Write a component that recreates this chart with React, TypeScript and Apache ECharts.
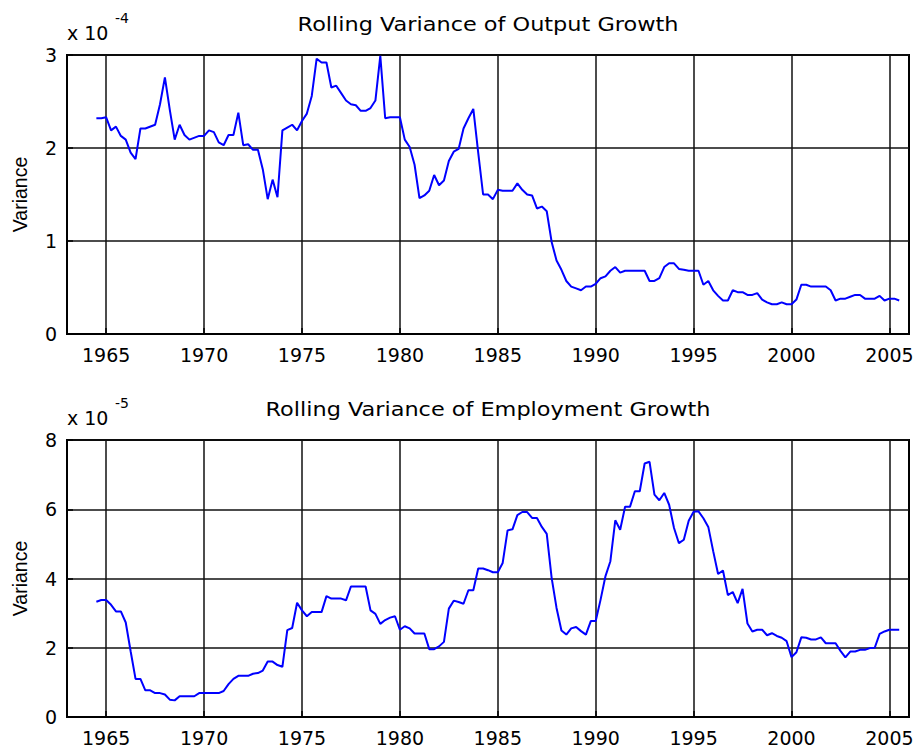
import React, { useEffect, useRef } from "react";
import * as echarts from "echarts";

// x-axis tick years (shared by both panels)
const xTickYears = [1965, 1970, 1975, 1980, 1985, 1990, 1995, 2000, 2005];
const xRange = [1963, 2006];

// Output growth rolling variance, in units of 1e-4: [year, value]
const outputVariance: [number, number][] = [
  [1964.5, 2.32], [1964.75, 2.32], [1965, 2.33], [1965.25, 2.19], [1965.5, 2.23], [1965.75, 2.13],
  [1966, 2.09], [1966.25, 1.95], [1966.5, 1.88], [1966.75, 2.21], [1967, 2.21], [1967.5, 2.25],
  [1967.75, 2.47], [1968, 2.76], [1968.25, 2.41], [1968.5, 2.09], [1968.75, 2.25], [1969, 2.14],
  [1969.25, 2.09], [1969.75, 2.13], [1970, 2.13], [1970.25, 2.19], [1970.5, 2.17], [1970.75, 2.06],
  [1971, 2.03], [1971.25, 2.14], [1971.5, 2.14], [1971.75, 2.38], [1972, 2.03], [1972.25, 2.04],
  [1972.5, 1.98], [1972.75, 1.98], [1973, 1.77], [1973.25, 1.45], [1973.5, 1.66], [1973.75, 1.47],
  [1974, 2.19], [1974.25, 2.22], [1974.5, 2.25], [1974.75, 2.19], [1975, 2.29], [1975.25, 2.37],
  [1975.5, 2.56], [1975.75, 2.96], [1976, 2.92], [1976.25, 2.92], [1976.5, 2.65], [1976.75, 2.67],
  [1977, 2.59], [1977.25, 2.51], [1977.5, 2.47], [1977.75, 2.46], [1978, 2.4], [1978.25, 2.4],
  [1978.5, 2.43], [1978.75, 2.51], [1979, 2.99], [1979.25, 2.32], [1979.5, 2.33], [1980, 2.33],
  [1980.25, 2.09], [1980.5, 2.01], [1980.75, 1.82], [1981, 1.46], [1981.25, 1.49], [1981.5, 1.54],
  [1981.75, 1.71], [1982, 1.6], [1982.25, 1.65], [1982.5, 1.86], [1982.75, 1.96], [1983, 1.99],
  [1983.25, 2.21], [1983.5, 2.32], [1983.75, 2.42], [1984, 1.95], [1984.25, 1.5], [1984.5, 1.5],
  [1984.75, 1.45], [1985, 1.55], [1985.25, 1.54], [1985.75, 1.54], [1986, 1.62], [1986.25, 1.55],
  [1986.5, 1.5], [1986.75, 1.49], [1987, 1.35], [1987.25, 1.37], [1987.5, 1.32], [1987.75, 0.99],
  [1988, 0.79], [1988.25, 0.69], [1988.5, 0.57], [1988.75, 0.51], [1989, 0.49], [1989.25, 0.47],
  [1989.5, 0.51], [1989.75, 0.51], [1990, 0.54], [1990.25, 0.6], [1990.5, 0.62], [1990.75, 0.68],
  [1991, 0.72], [1991.25, 0.66], [1991.5, 0.68], [1992.5, 0.68], [1992.75, 0.57], [1993, 0.57],
  [1993.25, 0.6], [1993.5, 0.72], [1993.75, 0.76], [1994, 0.76], [1994.25, 0.7], [1994.5, 0.69],
  [1994.75, 0.68], [1995.25, 0.68], [1995.5, 0.53], [1995.75, 0.57], [1996, 0.47], [1996.25, 0.41],
  [1996.5, 0.36], [1996.75, 0.36], [1997, 0.47], [1997.25, 0.45], [1997.5, 0.45], [1997.75, 0.42],
  [1998, 0.42], [1998.25, 0.44], [1998.5, 0.37], [1998.75, 0.34], [1999, 0.32], [1999.25, 0.32],
  [1999.5, 0.34], [1999.75, 0.32], [2000, 0.32], [2000.25, 0.37], [2000.5, 0.53], [2000.75, 0.53],
  [2001, 0.51], [2001.75, 0.51], [2002, 0.47], [2002.25, 0.36], [2002.5, 0.38], [2002.75, 0.38],
  [2003, 0.4], [2003.25, 0.42], [2003.5, 0.42], [2003.75, 0.38], [2004.25, 0.38], [2004.5, 0.41],
  [2004.75, 0.36], [2005, 0.38], [2005.25, 0.38], [2005.5, 0.36],
];

// Employment growth rolling variance, in units of 1e-5: [year, value]
const employmentVariance: [number, number][] = [
  [1964.5, 3.33], [1964.75, 3.38], [1965, 3.38], [1965.25, 3.24], [1965.5, 3.05], [1965.75, 3.05],
  [1966, 2.73], [1966.25, 1.9], [1966.5, 1.1], [1966.75, 1.1], [1967, 0.77], [1967.25, 0.77],
  [1967.5, 0.69], [1967.75, 0.69], [1968, 0.65], [1968.25, 0.5], [1968.5, 0.48], [1968.75, 0.6],
  [1969.5, 0.6], [1969.75, 0.69], [1970.75, 0.69], [1971, 0.75], [1971.25, 0.95], [1971.5, 1.1],
  [1971.75, 1.19], [1972.25, 1.19], [1972.5, 1.25], [1972.75, 1.27], [1973, 1.34], [1973.25, 1.6],
  [1973.5, 1.6], [1973.75, 1.5], [1974, 1.45], [1974.25, 2.51], [1974.5, 2.57], [1974.75, 3.3],
  [1975, 3.08], [1975.25, 2.91], [1975.5, 3.03], [1976, 3.03], [1976.25, 3.49], [1976.5, 3.42],
  [1977, 3.42], [1977.25, 3.37], [1977.5, 3.77], [1978.25, 3.77], [1978.5, 3.08], [1978.75, 2.98],
  [1979, 2.69], [1979.25, 2.8], [1979.5, 2.87], [1979.75, 2.91], [1980, 2.52], [1980.25, 2.62],
  [1980.5, 2.56], [1980.75, 2.41], [1981.25, 2.41], [1981.5, 1.96], [1981.75, 1.96], [1982, 2.04],
  [1982.25, 2.17], [1982.5, 3.13], [1982.75, 3.36], [1983, 3.32], [1983.25, 3.27], [1983.5, 3.66],
  [1983.75, 3.66], [1984, 4.29], [1984.25, 4.29], [1984.5, 4.24], [1984.75, 4.18], [1985, 4.18],
  [1985.25, 4.45], [1985.5, 5.39], [1985.75, 5.42], [1986, 5.83], [1986.25, 5.92], [1986.5, 5.92],
  [1986.75, 5.75], [1987, 5.75], [1987.25, 5.49], [1987.5, 5.29], [1987.75, 4.02], [1988, 3.15],
  [1988.25, 2.5], [1988.5, 2.38], [1988.75, 2.56], [1989, 2.6], [1989.25, 2.48], [1989.5, 2.38],
  [1989.75, 2.77], [1990, 2.77], [1990.25, 3.39], [1990.5, 4.07], [1990.75, 4.5], [1991, 5.68],
  [1991.25, 5.41], [1991.5, 6.07], [1991.75, 6.07], [1992, 6.52], [1992.25, 6.52], [1992.5, 7.32],
  [1992.75, 7.37], [1993, 6.42], [1993.25, 6.26], [1993.5, 6.47], [1993.75, 6.13], [1994, 5.46],
  [1994.25, 5.02], [1994.5, 5.12], [1994.75, 5.67], [1995, 5.93], [1995.25, 5.94], [1995.5, 5.74],
  [1995.75, 5.49], [1996, 4.79], [1996.25, 4.13], [1996.5, 4.23], [1996.75, 3.52], [1997, 3.61],
  [1997.25, 3.29], [1997.5, 3.7], [1997.75, 2.7], [1998, 2.47], [1998.25, 2.52], [1998.5, 2.52],
  [1998.75, 2.36], [1999, 2.42], [1999.25, 2.34], [1999.5, 2.29], [1999.75, 2.19], [2000, 1.73],
  [2000.25, 1.87], [2000.5, 2.3], [2000.75, 2.29], [2001, 2.24], [2001.25, 2.24], [2001.5, 2.3],
  [2001.75, 2.13], [2002.25, 2.13], [2002.5, 1.91], [2002.75, 1.72], [2003, 1.89], [2003.25, 1.89],
  [2003.5, 1.94], [2003.75, 1.94], [2004, 1.99], [2004.25, 2.0], [2004.5, 2.4], [2004.75, 2.47],
  [2005, 2.52], [2005.5, 2.52],
];

const outputYAxis = { min: 0, max: 3, interval: 1 };
const employmentYAxis = { min: 0, max: 8, interval: 2 };

const titles = ["Rolling Variance of Output Growth", "Rolling Variance of Employment Growth"];
const exponents = ["-4", "-5"];
const yLabel = "Variance";

const W = 919;
const H = 752;
const FONT = "DejaVu Sans";

export default function App() {
  const ref = useRef<HTMLDivElement>(null);

  useEffect(() => {
    if (!ref.current) return;
    const chart = echarts.init(ref.current, undefined, { renderer: "svg" });

    const grids = [
      { left: 67, top: 55, width: 842, height: 279 },
      { left: 67, top: 440, width: 842, height: 277 },
    ];

    const xAxisBase = (gridIndex: number) => ({
      type: "value" as const,
      gridIndex,
      min: xRange[0],
      max: xRange[1],
      axisLine: { show: true, onZero: false, lineStyle: { color: "#000", width: 2 } },
      axisTick: {
        show: true,
        inside: true,
        length: 6,
        customValues: xTickYears,
        lineStyle: { color: "#000", width: 1.5 },
      },
      axisLabel: {
        customValues: xTickYears,
        color: "#000",
        fontFamily: FONT,
        fontSize: 19,
        margin: 11,
        formatter: (v: number) => String(v),
      },
      splitLine: { show: true, lineStyle: { color: "#111", width: 1.5 } },
    });

    const yAxisBase = (gridIndex: number, cfg: { min: number; max: number; interval: number }) => ({
      type: "value" as const,
      gridIndex,
      min: cfg.min,
      max: cfg.max,
      interval: cfg.interval,
      axisLine: { show: true, onZero: false, lineStyle: { color: "#000", width: 2 } },
      axisTick: { show: true, inside: true, length: 6, lineStyle: { color: "#000", width: 1.5 } },
      axisLabel: { color: "#000", fontFamily: FONT, fontSize: 19, margin: 10 },
      splitLine: { show: true, lineStyle: { color: "#111", width: 1.5 } },
    });

    const graphics: any[] = [];
    grids.forEach((g, i) => {
      // title
      graphics.push({
        type: "text",
        x: g.left + g.width / 2,
        y: g.top - 31,
        scaleX: 1.12,
        style: {
          text: titles[i],
          fontFamily: FONT,
          fontSize: 20,
          fill: "#000",
          align: "center",
          verticalAlign: "middle",
        },
      });
      // multiplier "x 10^n"
      graphics.push({
        type: "text",
        x: g.left,
        y: g.top - 22,
        style: {
          text: "x 10",
          fontFamily: FONT,
          fontSize: 19,
          fill: "#000",
          align: "left",
          verticalAlign: "middle",
        },
      });
      graphics.push({
        type: "text",
        x: g.left + 48,
        y: g.top - 37,
        style: {
          text: exponents[i],
          fontFamily: FONT,
          fontSize: 14,
          fill: "#000",
          align: "left",
          verticalAlign: "middle",
        },
      });
      // y label
      graphics.push({
        type: "text",
        x: 20,
        y: g.top + g.height / 2,
        rotation: Math.PI / 2,
        style: {
          text: yLabel,
          fontFamily: "Liberation Sans",
          fontSize: 19.5,
          fill: "#000",
          align: "center",
          verticalAlign: "middle",
        },
      });
    });

    chart.setOption({
      animation: false,
      backgroundColor: "#fff",
      grid: grids.map((g) => ({
        ...g,
        show: true,
        borderColor: "#000",
        borderWidth: 2,
        backgroundColor: "transparent",
      })),
      xAxis: [xAxisBase(0), xAxisBase(1)],
      yAxis: [yAxisBase(0, outputYAxis), yAxisBase(1, employmentYAxis)],
      series: [
        {
          type: "line",
          xAxisIndex: 0,
          yAxisIndex: 0,
          data: outputVariance,
          showSymbol: false,
          lineStyle: { color: "#0000ff", width: 2 },
          itemStyle: { color: "#0000ff" },
          z: 5,
        },
        {
          type: "line",
          xAxisIndex: 1,
          yAxisIndex: 1,
          data: employmentVariance,
          showSymbol: false,
          lineStyle: { color: "#0000ff", width: 2 },
          itemStyle: { color: "#0000ff" },
          z: 5,
        },
      ],
      graphic: graphics,
    });

    return () => chart.dispose();
  }, []);

  return (
    <div
      ref={ref}
      style={{ position: "fixed", left: 0, top: 0, width: W, height: H, background: "#fff" }}
    />
  );
}
